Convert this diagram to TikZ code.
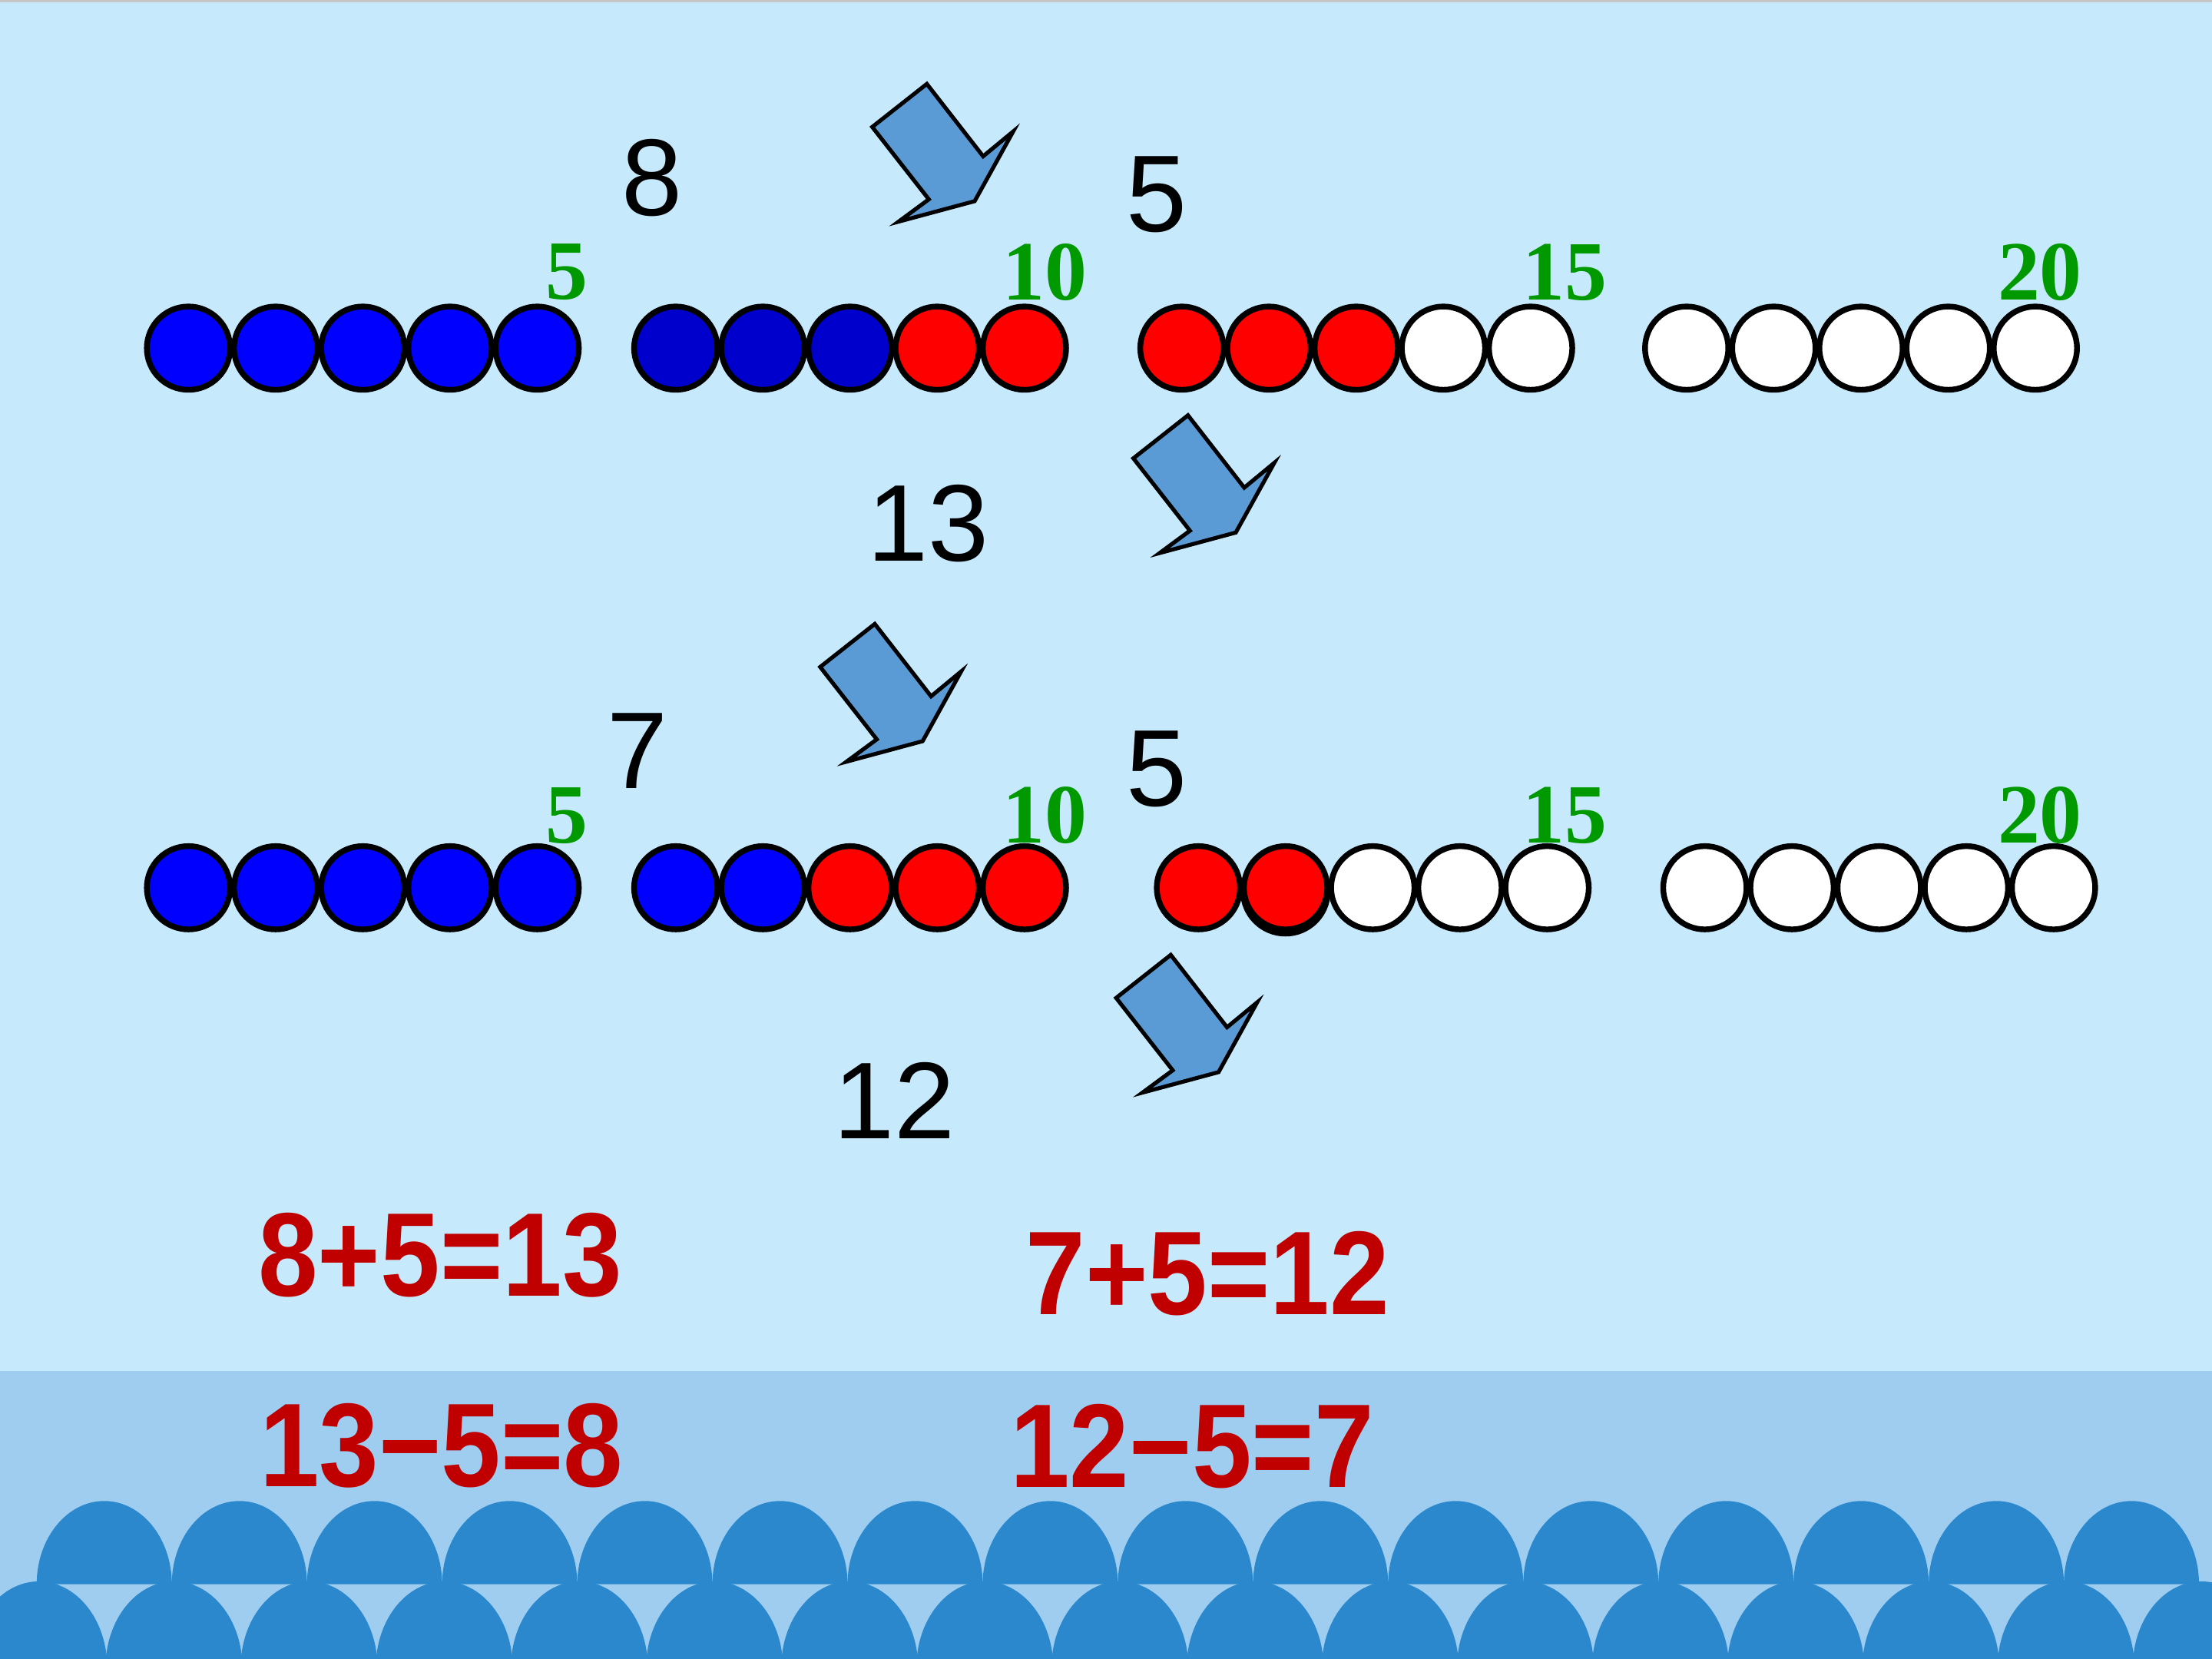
\documentclass[tikz,border=0pt]{standalone}
\usepackage{fontspec}
\setmainfont{Liberation Sans}
\newfontfamily\timesnum{Liberation Serif}
\usetikzlibrary{shapes}
\definecolor{sky}{RGB}{198,233,251}
\definecolor{sea}{RGB}{159,205,240}
\definecolor{wavecol}{RGB}{43,136,205}
\definecolor{arrowcol}{RGB}{91,155,213}
\definecolor{tickgreen}{RGB}{0,153,0}
\definecolor{eqred}{RGB}{192,0,0}
\definecolor{darkbead}{RGB}{0,0,204}

\begin{document}
\begin{tikzpicture}[x=0.01cm, y=-0.01cm,
bead/.style = {% one bead
    circle, draw=black, line width=1.15pt, minimum size=0.59cm,
    inner sep=0pt, outer sep=0pt,
            },
beadB/.style = {fill=blue},
beadD/.style = {fill=darkbead},
beadR/.style = {fill=red},
beadW/.style = {fill=white},
num/.style = {inner sep=0pt, font=\fontsize{22}{26}\selectfont},
tick/.style = {inner sep=0pt, text=tickgreen, font=\fontsize{17}{20}\selectfont\timesnum\bfseries},
eqn/.style = {inner sep=0pt, text=eqred, font=\fontsize{24}{28}\selectfont\bfseries},
turnarrow/.style = {fill=arrowcol, draw=black, line width=0.8pt, line join=miter},
                        ]
\useasboundingbox (0,0) rectangle (1568,1176);
% background
\fill[sky] (0,0) rectangle (1568,1176);
\fill[gray!45] (0,0) rectangle (1568,1.6);
\fill[sea] (0,972) rectangle (1568,1176);
% waves
\begin{scope}
\clip (0,0) rectangle (1568,1176);
\foreach \k in {0,...,15}{\fill[wavecol] (26+95.8*\k,1123) arc[start angle=180, end angle=360, x radius=47.9, y radius=59] -- cycle;}
\foreach \k in {0,...,16}{\fill[wavecol] (-21+95.8*\k,1182) arc[start angle=180, end angle=360, x radius=48.5, y radius=61] -- cycle;}
\end{scope}
% turning arrows
\foreach \ax/\ay in {657/59.5, 842.1/294.4, 620.1/442.3, 829.9/676.9}{
\draw[turnarrow, shift={(\ax,\ay)}] (0,0) -- (-38.7,30.5) -- (1.4,81.8) -- (-20,97.6)
      -- (33.9,83.1) -- (61.2,33.7) -- (39.9,51.3) -- cycle;}
% beads, first row
\foreach \col [count=\i from 0] in
       {B,B,B,B,B, D,D,D,R,R, R,R,R,W,W, W,W,W,W,W}{
  \pgfmathtruncatemacro{\g}{floor(\i/5)}
  \pgfmathsetmacro{\bx}{{133.6,479,837.8,1195.6}[\g]+61.8*mod(\i,5)}
  \node[bead,bead\col] (a\i) at (\bx,246.8) {};}
% beads, second row
\node[circle, fill=black, minimum size=0.64cm, inner sep=0pt] (shadow) at (911.2,631.8) {};
\foreach \col [count=\i from 0] in
       {B,B,B,B,B, B,B,R,R,R, R,R,W,W,W, W,W,W,W,W}{
  \pgfmathtruncatemacro{\g}{floor(\i/5)}
  \pgfmathsetmacro{\bx}{{133.6,479,849.5,1208.5}[\g]+61.8*mod(\i,5)}
  \node[bead,bead\col] (b\i) at (\bx,629.3) {};}
% green tens
\foreach \t/\tx in {5/402, 10/740.5, 15/1109.5, 20/1446}{
  \node[tick] (ta\t) at (\tx,193) {\t};
  \node[tick] (tb\t) at (\tx,578) {\t};}
% numbers
\node[num] (eight)  at (462,126) {8};
\node[num] (fivea)  at (820,138) {5};
\node[num] (sumA)   at (658,371) {13};
\node[num] (seven)  at (452,532) {7};
\node[num] (fiveb)  at (820,545) {5};
\node[num] (sumB)   at (634,780) {12};
% equations
\node[eqn] (addA) at (312,890)  {\scalebox{0.9}[1]{8+5=13}};
\node[eqn] (addB) at (856,903)  {\scalebox{0.9}[1]{7+5=12}};
\node[eqn] (subA) at (313,1025) {\scalebox{0.9}[1]{13−5=8}};
\node[eqn] (subB) at (845,1025) {\scalebox{0.9}[1]{12−5=7}};
\end{tikzpicture}
\end{document}
